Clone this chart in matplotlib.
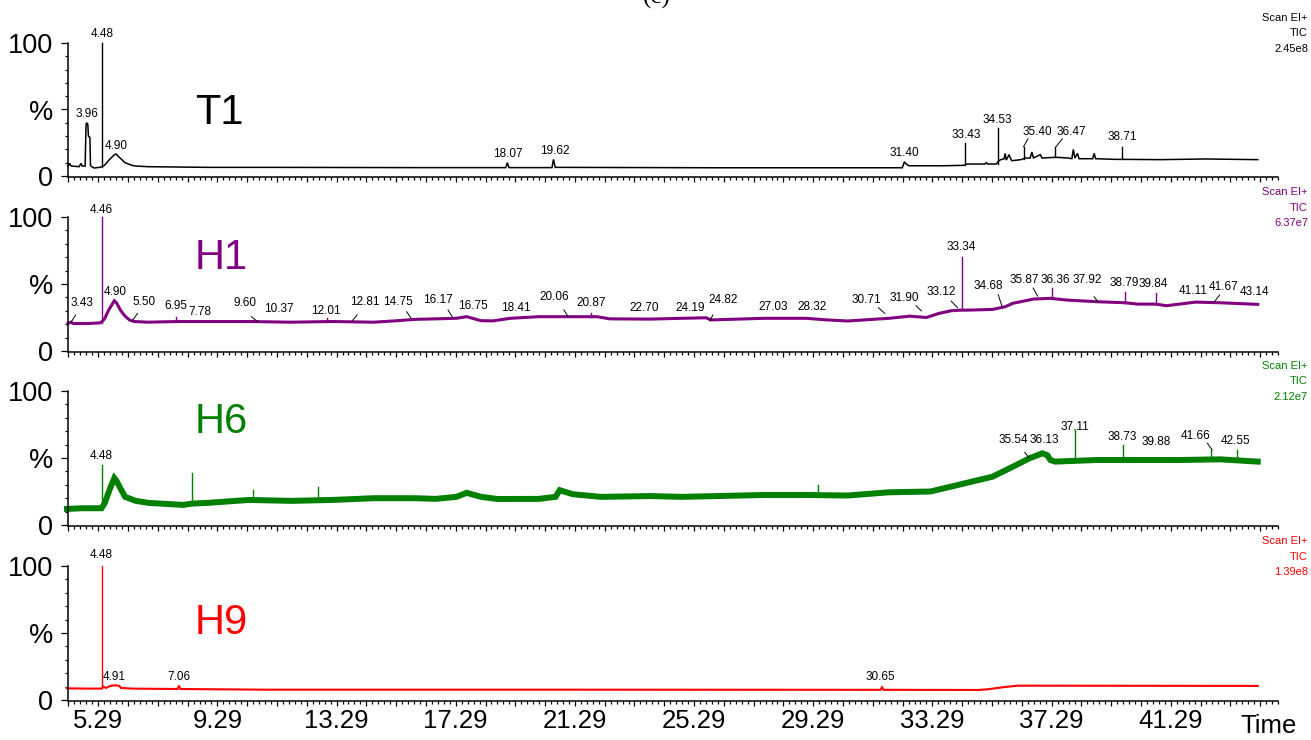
import matplotlib
matplotlib.use("Agg")
import matplotlib.pyplot as plt
import numpy as np

plt.rcParams['font.family'] = ['Liberation Sans', 'DejaVu Sans']

# ---------------- data (retention time in min, relative intensity %) ----------------
names = ["T1", "H1", "H6", "H9"]
colors = ["#000000", "#800080", "#008000", "#ff0000"]
tic_max = ["2.45e8", "6.37e7", "2.12e7", "1.39e8"]

T1_t = [3.33, 3.38, 3.41, 3.45, 3.70, 3.76, 3.80, 3.90, 3.93, 3.95, 3.99, 4.01, 4.06, 4.08, 4.12,
        4.20, 4.38, 4.46, 4.55, 4.70, 4.88, 4.94, 5.05, 5.24, 5.47, 5.60, 6.00, 8.00, 10.0, 15.0,
        18.02, 18.07, 18.13, 19.57, 19.62, 19.68, 25.0, 31.33, 31.40, 31.46, 31.55, 32.7, 33.38,
        33.50, 34.10, 34.15, 34.20, 34.48, 34.60, 34.75, 34.78, 34.82, 34.91, 35.0, 35.2, 35.35,
        35.45, 35.62, 35.68, 35.73, 35.96, 36.02, 36.40, 36.55, 36.9, 37.02, 37.07, 37.12, 37.21,
        37.26, 37.72, 37.77, 37.82, 38.5, 38.68, 38.80, 40.0, 41.5, 43.26]
T1_y = [7.5, 9.5, 8.0, 7.5, 7.0, 9.5, 7.5, 7.5, 38, 40, 39, 30, 29, 8, 7,
        6.0, 6.5, 7.0, 8, 12, 16, 16.5, 14, 10, 8, 7.5, 7.0, 6.5, 6.5, 6.3,
        6.3, 10, 6.3, 6.3, 12.5, 6.5, 6.2, 6.2, 10.7, 9, 7.7, 7.7, 8.0,
        9, 9, 10, 9, 9, 12, 13, 17, 12, 16, 11.5, 12, 12.5,
        13.5, 13.5, 18, 13.5, 16, 13.5, 14, 14, 13.5, 13, 20, 13.5, 17,
        13, 13, 17, 13, 12.5, 12.5, 12.5, 12.3, 12.8, 12.3]
T1_spikes = [(4.48, 7.0, 100), (33.43, 8.0, 24.6), (34.53, 9.0, 36), (35.40, 12.5, 22),
             (36.47, 14.0, 22), (38.71, 12.5, 22)]

H1_t = [3.33, 3.43, 3.50, 4.00, 4.40, 4.47, 4.55, 4.70, 4.88, 4.95, 5.10, 5.24, 5.40, 5.55, 6.0,
        7.0, 8.0, 9.4, 10.8, 12.2, 13.59, 14.3, 14.97, 16.36, 16.71, 17.19, 17.6, 18.17, 19.13,
        20.5, 21.08, 21.51, 22.86, 23.92, 24.74, 24.91, 26.71, 28.1, 28.8, 29.5, 30.06, 30.88,
        31.58, 32.14, 32.55, 32.96, 33.30, 33.52, 34.35, 34.78, 35.04, 35.75, 36.30, 36.86,
        37.85, 38.80, 39.23, 39.84, 40.19, 41.18, 42.0, 43.26]
H1_y = [20.7, 21.5, 20.5, 20.5, 21, 22, 24, 31, 37.5, 36, 30, 26, 23, 22, 21.5,
        22, 22, 22, 21.5, 22, 21.5, 22.5, 23.6, 24.4, 25.6, 22.6, 22.5, 24.4, 25.6,
        25.6, 25.6, 24, 23.8, 24.4, 24.8, 23.2, 24.4, 24.4, 23.2, 22.4, 23.2, 24.4,
        26, 25, 28, 30, 30.5, 30.5, 31, 33, 35.6, 38.8, 39.3, 38,
        36.8, 36, 35, 35, 33.8, 36.5, 36, 34.8]
H1_spikes = [(4.46, 21, 100), (6.95, 22, 25.5), (12.01, 22, 24.5), (20.87, 25.5, 28),
             (33.34, 30.5, 70.4), (36.36, 39.3, 47), (38.79, 36, 44), (39.84, 35, 43)]

H6_t = [3.29, 3.80, 4.45, 4.55, 4.75, 4.88, 4.95, 5.24, 5.60, 6.03, 7.19, 7.50, 8.01, 9.40,
        10.82, 12.2, 13.59, 14.97, 15.67, 16.36, 16.71, 17.19, 17.75, 19.13, 19.69, 19.83,
        20.26, 21.21, 22.86, 23.92, 26.71, 28.1, 29.5, 30.88, 32.27, 32.96, 33.65, 34.35,
        35.04, 35.60, 36.03, 36.20, 36.30, 36.46, 37.85, 39.23, 40.62, 42.0, 43.26]
H6_y = [12, 12.5, 12.5, 16, 28, 35, 33, 21, 18, 16.5, 15, 16, 16.5, 18.7,
        18, 18.7, 20, 20, 19.5, 21, 24, 21, 19.4, 19.5, 21, 26,
        23, 21, 21.6, 21, 22.4, 22.4, 22, 24.4, 25, 28.6, 32.3, 36,
        43.5, 49.8, 53.5, 52, 48.5, 47.3, 48.5, 48.5, 48.5, 49, 47.3]
H6_spikes = [(4.48, 13, 45), (7.50, 16, 38.6), (9.55, 18.5, 26), (11.70, 18.5, 28),
             (28.49, 22.4, 30), (37.11, 48, 71), (38.74, 48.5, 60), (41.70, 48.5, 56),
             (42.56, 48.5, 56)]

H9_t = [3.29, 4.00, 4.45, 4.52, 4.60, 4.75, 4.91, 5.05, 5.10, 5.50, 7.00, 7.05, 7.10, 10.0,
        20.0, 30.60, 30.65, 30.70, 33.90, 34.20, 34.70, 35.20, 43.26]
H9_y = [8.7, 8.5, 8.5, 10, 9, 10.5, 11, 10.5, 9, 8.5, 8.2, 10.7, 8.2, 7.7,
        7.7, 7.6, 9.5, 7.6, 7.5, 8.0, 9.5, 10.7, 10.5]
H9_spikes = [(4.48, 9, 100)]

# peak labels: (text, label time, label %, optional leader (t0, y0, t1, y1))
T1_labels = [("3.96", 3.97, 46.4, None), ("4.48", 4.48, 106.5, None), ("4.90", 4.94, 22.8, None),
             ("18.07", 18.10, 16.3, None), ("19.62", 19.65, 19, None), ("31.40", 31.39, 17, None),
             ("33.43", 33.46, 30.8, None), ("34.53", 34.53, 42.1, None),
             ("35.40", 35.86, 33.3, (35.40, 22, 35.55, 28)),
             ("36.47", 37.00, 33.3, (36.49, 22, 36.70, 28)),
             ("38.71", 38.70, 29.1, None)]
H1_labels = [("3.43", 3.79, 35.8, (3.44, 21.9, 3.58, 26.9)), ("4.46", 4.45, 105.2, None),
             ("4.90", 4.91, 44, None), ("5.50", 5.87, 36.6, (5.50, 23.1, 5.66, 28.1)),
             ("6.95", 6.94, 33.8, None), ("7.78", 7.75, 29.3, None),
             ("9.60", 9.25, 35.6, (9.69, 21.9, 9.48, 25.6)), ("10.37", 10.39, 31.3, None),
             ("12.01", 11.97, 30.1, None), ("12.81", 13.29, 36.3, (12.86, 22.4, 13.03, 26.9)),
             ("14.75", 14.41, 36.8, (14.83, 24.9, 14.69, 29.3)),
             ("16.17", 15.73, 38, (16.22, 25.6, 16.08, 30.6)), ("16.75", 16.92, 33.8, None),
             ("18.41", 18.37, 32.3, None), ("20.06", 19.63, 40.5, (20.11, 25.6, 19.97, 30.6)),
             ("20.87", 20.88, 35.6, None), ("22.70", 22.68, 32.3, None),
             ("24.19", 24.20, 32.3, None), ("24.82", 25.30, 38, (24.87, 22.4, 24.97, 26.9)),
             ("27.03", 26.99, 33.1, None), ("28.32", 28.31, 33.1, None),
             ("30.71", 30.12, 38, (30.74, 28.1, 30.53, 32.3)),
             ("31.90", 31.41, 39.8, (31.97, 29.9, 31.79, 33.8)),
             ("33.12", 32.62, 43.8, (33.18, 32.3, 32.97, 37.3)), ("33.34", 33.31, 77.8, None),
             ("34.68", 34.22, 48.7, (34.68, 33, 34.55, 42)),
             ("35.87", 35.42, 53, (35.87, 41, 35.72, 47)), ("36.36", 36.48, 53, None),
             ("37.92", 37.52, 53, (37.91, 36.3, 37.77, 40.5)), ("38.79", 38.78, 50.5, None),
             ("39.84", 39.76, 49.8, None), ("41.11", 41.08, 44.8, None),
             ("41.67", 42.12, 48, (41.81, 36.8, 41.98, 41.8)), ("43.14", 43.14, 44.3, None)]
H6_labels = [("4.48", 4.45, 51.7, None), ("35.54", 35.05, 63.4, (35.58, 50.2, 35.44, 54.2)),
             ("36.13", 36.10, 63.4, None), ("37.11", 37.11, 73.4, None),
             ("38.73", 38.70, 65.9, None), ("39.88", 39.86, 61.7, None),
             ("41.66", 41.18, 66.6, (41.73, 56, 41.57, 61)), ("42.55", 42.53, 62.7, None)]
H9_labels = [("4.48", 4.45, 108.2, None), ("4.91", 4.86, 16.9, None),
             ("7.06", 7.05, 16.9, None), ("30.65", 30.60, 16.9, None)]

x_tick_labels = ["5.29", "9.29", "13.29", "17.29", "21.29", "25.29", "29.29", "33.29", "37.29", "41.29"]
y_tick_labels = ["0", "%", "100"]

traces = [(T1_t, T1_y, T1_spikes, T1_labels), (H1_t, H1_y, H1_spikes, H1_labels),
          (H6_t, H6_y, H6_spikes, H6_labels), (H9_t, H9_y, H9_spikes, H9_labels)]

# ---------------- layout / style ----------------
W, H = 1311, 740
fig = plt.figure(figsize=(W / 100, H / 100), dpi=100)
fig.patch.set_facecolor("white")

XMIN, XMAX = 3.325, 43.26
AXIS_SHIFT = 0.95          # axis-label frame vs. retention time
tops_px = [43, 217, 391, 566]
zero_px = [176, 351, 525, 700]
left_px, right_px = 68, 1278
line_w = [1.1, 2.2, 4.3, 1.5]
panel_label_pos = [48, 70, 77, 58]   # % height of the sample name

tick_vals = [float(s) for s in x_tick_labels]
major_pos = np.arange(4.29, 45.0, 1.0) - AXIS_SHIFT
minor_pos = np.arange(4.29, 45.0, 0.2) - AXIS_SHIFT

for i, (t, y, spikes, labels) in enumerate(traces):
    top = tops_px[i]
    zero = zero_px[i]
    ppu = (zero - top) / 100.0
    bottom = zero + 1.0 * ppu
    ax = fig.add_axes([left_px / W, 1 - bottom / H, (right_px - left_px) / W, (bottom - top) / H])
    ax.set_xlim(XMIN, XMAX)
    ax.set_ylim(-1, 100)
    c = colors[i]
    ax.plot(t, y, color=c, lw=line_w[i], solid_joinstyle="miter", clip_on=False)
    for (st, sb, sh) in spikes:
        ax.plot([st, st], [sb, sh], color=c, lw=1.0, clip_on=False)
    for (txt, lt, ly, lead) in labels:
        ax.text(lt, ly, txt, ha="center", va="center", fontsize=8.5, color="black", clip_on=False)
        if lead is not None:
            ax.plot([lead[0], lead[2]], [lead[1], lead[3]], color="black", lw=0.7, clip_on=False)

    for s in ["top", "right"]:
        ax.spines[s].set_visible(False)
    for s in ["left", "bottom"]:
        ax.spines[s].set_linewidth(1.1)
    ax.set_yticks([0, 50, 100])
    ax.set_yticklabels(y_tick_labels, fontsize=19.5)
    ax.set_yticks(np.arange(0, 101, 10), minor=True)
    ax.tick_params(axis="y", which="major", length=5, width=0.9, pad=5.5)
    ax.tick_params(axis="y", which="minor", length=2.5, width=0.9)
    ax.set_xticks(major_pos)
    ax.set_xticks(minor_pos, minor=True)
    ax.tick_params(axis="x", which="major", length=3.8, width=0.9, pad=2)
    ax.tick_params(axis="x", which="minor", length=1.9, width=0.9)
    if i == 3:
        lbl = []
        for p in major_pos:
            v = p + AXIS_SHIFT
            match = [s for s, tv in zip(x_tick_labels, tick_vals) if abs(tv - v) < 1e-6]
            lbl.append(match[0] if match else "")
        ax.set_xticklabels(lbl, fontsize=18.5)
    else:
        ax.set_xticklabels([])

    ax.text(0.105, panel_label_pos[i] / 100.0, names[i], transform=ax.transAxes,
            ha="left", va="center", fontsize=30, color=c)

    # acquisition info at right
    for k, (txt, dy) in enumerate(zip(["Scan EI+", "TIC", tic_max[i]], [-25, -9.5, 6])):
        fig.text(1308 / W, 1 - (top + dy) / H, txt, ha="right", va="center",
                 fontsize=8, color=c)

fig.text(1297 / W, 1 - 733 / H, "Time", ha="right", va="baseline", fontsize=18.5)
fig.text(657 / W, 1 - 9 / H, "(c)", ha="center", va="bottom", fontsize=18,
         family=["Liberation Serif", "DejaVu Serif"])

fig.savefig("out.png", dpi=100)
